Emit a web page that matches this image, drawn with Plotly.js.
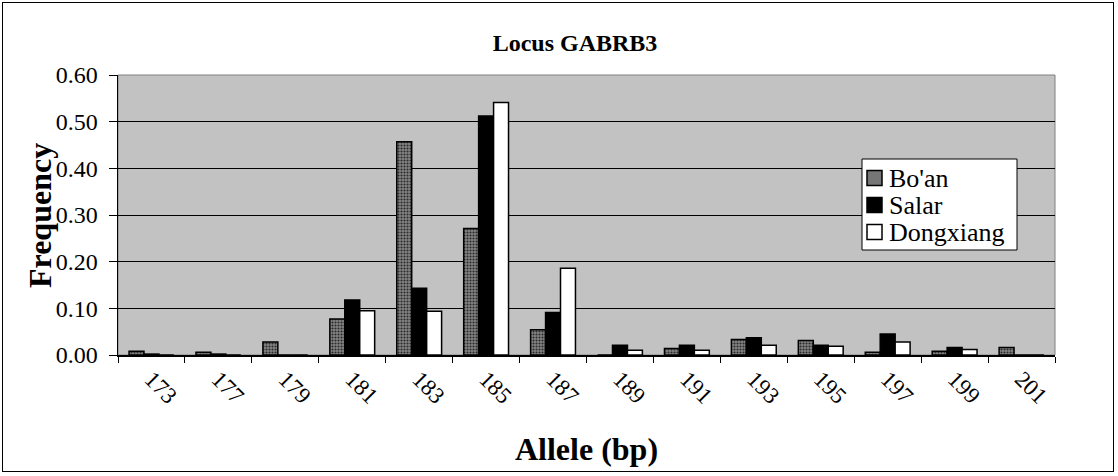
<!DOCTYPE html>
<html>
<head>
<meta charset="utf-8">
<script src="https://cdn.plot.ly/plotly-3.0.1.min.js"></script>
<style>
  html, body { margin: 0; padding: 0; background: #ffffff; }
  #wrap { position: relative; width: 1118px; height: 476px; }
  #chart { width: 1118px; height: 476px; }
  #frame { position: absolute; left: 2px; top: 2px; width: 1110px; height: 468px; border: 1px solid #000; pointer-events: none; }
</style>
</head>
<body>
<div id="wrap">
  <div id="chart"></div>
  <div id="frame"></div>
</div>
<script>
// Allele sizes (bp)
const alleles = ["173", "177", "179", "181", "183", "185", "187", "189", "191", "193", "195", "197", "199", "201"];
// Frequencies per population
const boan      = [0.008, 0.006, 0.028, 0.077, 0.457, 0.271, 0.054, 0.000, 0.014, 0.033, 0.031, 0.006, 0.008, 0.016];
const salar     = [0.002, 0.002, 0.000, 0.118, 0.143, 0.512, 0.091, 0.021, 0.021, 0.037, 0.021, 0.045, 0.016, 0.000];
const dongxiang = [0.000, 0.000, 0.000, 0.095, 0.094, 0.541, 0.186, 0.010, 0.010, 0.021, 0.019, 0.028, 0.012, 0.000];
const seriesNames = ["Bo'an", "Salar", "Dongxiang"];
const yTicks = [0, 0.1, 0.2, 0.3, 0.4, 0.5, 0.6];

const serif = "Liberation Serif";

const boanMarker = {
  color: "#767676",
  pattern: { shape: ".", bgcolor: "#858585", fgcolor: "#2a2a2a", size: 3, solidity: 0.4 },
  line: { color: "#000", width: 1.5 }
};
const salarMarker = { color: "#000000", line: { color: "#000", width: 1.5 } };
const dongMarker  = { color: "#ffffff", line: { color: "#000", width: 1.5 } };

const traces = [
  { type: "bar", name: seriesNames[0], x: alleles, y: boan, marker: boanMarker },
  { type: "bar", name: seriesNames[1], x: alleles, y: salar, marker: salarMarker },
  { type: "bar", name: seriesNames[2], x: alleles, y: dongxiang, marker: dongMarker }
];

const M = { l: 118, r: 63, t: 75, b: 121 };
const W = 1118, H = 476;
const PW = W - M.l - M.r, PH = H - M.t - M.b;
const px = v => (v - M.l) / PW;
const py = v => (H - M.b - v) / PH;

const legendBox = { x0: 862, x1: 1017, y0: 159, y1: 250 };
const rowTop = 178, rowStep = 27, sym = 15, symX = 867, textX = 887;
const legendFills = ["#767676", "#000000", "#ffffff"];

const shapes = [
  { type: "rect", xref: "paper", yref: "paper", x0: 0, x1: 1, y0: 0, y1: 1,
    line: { color: "#808080", width: 1 }, fillcolor: "rgba(0,0,0,0)", layer: "below" },
  { type: "rect", xref: "paper", yref: "paper",
    x0: px(legendBox.x0), x1: px(legendBox.x1), y0: py(legendBox.y1), y1: py(legendBox.y0),
    line: { color: "#000", width: 1 }, fillcolor: "#ffffff", layer: "above" }
];
const annotations = [
  {
    xref: "paper", yref: "paper", x: px(40), y: py(216), xanchor: "center", yanchor: "middle",
    text: "<b>Frequency</b>", textangle: -90, showarrow: false,
    font: { family: serif, size: 32, color: "#000" }
  }
];
seriesNames.forEach((nm, i) => {
  const cy = rowTop + i * rowStep;
  shapes.push({
    type: "rect", xref: "paper", yref: "paper",
    x0: px(symX), x1: px(symX + sym), y0: py(cy + sym / 2), y1: py(cy - sym / 2),
    line: { color: "#000", width: 1.5 }, fillcolor: legendFills[i], layer: "above"
  });
  annotations.push({
    xref: "paper", yref: "paper", x: px(textX), y: py(cy), xanchor: "left", yanchor: "middle",
    text: nm, showarrow: false,
    font: { family: serif, size: 26, color: "#000" }
  });
});

const layout = {
  width: W, height: H,
  margin: M,
  paper_bgcolor: "#ffffff",
  plot_bgcolor: "#c2c2c2",
  barmode: "group",
  bargap: 0.33,
  bargroupgap: 0,
  showlegend: false,
  font: { family: serif, color: "#000" },
  title: {
    text: "<b>Locus GABRB3</b>",
    font: { family: serif, size: 24, color: "#000" },
    x: 575 / W, xref: "container", xanchor: "center",
    y: 1 - 43 / H, yref: "container", yanchor: "middle"
  },
  xaxis: {
    type: "category",
    tickangle: 45,
    tickson: "boundaries",
    ticks: "outside", ticklen: 6, tickcolor: "#000", tickwidth: 1,
    tickfont: { family: serif, size: 23, color: "#000" },
    showline: true, linecolor: "#000", linewidth: 1.5,
    showgrid: false,
    title: { text: "<b>Allele (bp)</b>", font: { family: serif, size: 32, color: "#000" }, standoff: 30 },
    automargin: false
  },
  yaxis: {
    range: [0, 0.6],
    tickvals: yTicks,
    tickformat: ".2f",
    ticks: "outside", ticklen: 8, tickcolor: "#000", tickwidth: 1,
    ticklabelstandoff: 6,
    tickfont: { family: serif, size: 24, color: "#000" },
    showline: true, linecolor: "#000", linewidth: 1.5,
    showgrid: true, gridcolor: "#000", gridwidth: 1,
    zeroline: false,
    automargin: false
  },
  shapes: shapes,
  annotations: annotations
};

Plotly.newPlot("chart", traces, layout, { displayModeBar: false, staticPlot: true });
</script>
</body>
</html>
